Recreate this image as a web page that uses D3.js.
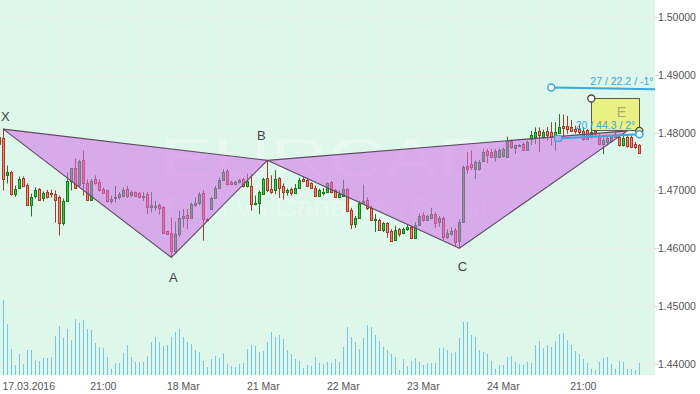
<!DOCTYPE html>
<html><head><meta charset="utf-8">
<script src="https://cdn.jsdelivr.net/npm/d3@7"></script>
<style>body{margin:0;background:#fff}svg{display:block}</style>
</head><body>
<svg id="chart" width="700" height="394"></svg>
<script>
// ---------- DATA ----------
const open=[1.4793,1.4791,1.4727,1.4731,1.4694,1.4705,1.4722,1.4710,1.4675,1.4691,
1.4703,1.4686,1.4698,1.4695,1.4693,1.4688,1.4643,1.4682,1.4717,1.4739,
1.4710,1.4753,1.4713,1.4684,1.4719,1.4715,1.4703,1.4700,1.4681,1.4688,
1.4688,1.4691,1.4703,1.4692,1.4697,1.4695,1.4688,1.4694,1.4672,1.4672,
1.4675,1.4671,1.4629,1.4626,1.4595,1.4625,1.4652,1.4658,1.4653,1.4675,
1.4678,1.4695,1.4651,1.4668,1.4687,1.4705,1.4718,1.4734,1.4715,1.4711,
1.4714,1.4720,1.4707,1.4708,1.4677,1.4679,1.4694,1.4722,1.4703,1.4700,
1.4722,1.4708,1.4698,1.4703,1.4695,1.4705,1.4720,1.4718,1.4712,1.4705,
1.4691,1.4696,1.4698,1.4714,1.4701,1.4688,1.4691,1.4703,1.4666,1.4642,
1.4652,1.4679,1.4684,1.4670,1.4648,1.4649,1.4632,1.4644,1.4630,1.4614,
1.4633,1.4626,1.4633,1.4637,1.4618,1.4641,1.4658,1.4649,1.4653,1.4660,
1.4645,1.4653,1.4619,1.4625,1.4632,1.4612,1.4645,1.4743,1.4746,1.4737,
1.4737,1.4750,1.4768,1.4766,1.4758,1.4758,1.4760,1.4758,1.4786,1.4774,
1.4776,1.4781,1.4770,1.4789,1.4792,1.4803,1.4793,1.4803,1.4801,1.4795,
1.4799,1.4812,1.4812,1.4810,1.4807,1.4806,1.4803,1.4805,1.4792,1.4803,
1.4793,1.4780,1.4783,1.4786,1.4798,1.4793,1.4778,1.4793,1.4792,1.4781,
1.4778];
const high=[1.4797,1.4807,1.4743,1.4734,1.4708,1.4724,1.4724,1.4712,1.4694,1.4705,
1.4704,1.4698,1.4701,1.4701,1.4700,1.4691,1.4686,1.4731,1.4739,1.4755,
1.4753,1.4769,1.4719,1.4720,1.4726,1.4719,1.4705,1.4701,1.4691,1.4708,
1.4697,1.4705,1.4708,1.4700,1.4698,1.4697,1.4697,1.4697,1.4697,1.4682,
1.4677,1.4672,1.4630,1.4653,1.4646,1.4665,1.4668,1.4668,1.4679,1.4688,
1.4697,1.4700,1.4652,1.4689,1.4708,1.4722,1.4737,1.4737,1.4717,1.4717,
1.4720,1.4722,1.4729,1.4729,1.4691,1.4700,1.4722,1.4752,1.4726,1.4735,
1.4723,1.4712,1.4703,1.4705,1.4711,1.4722,1.4724,1.4722,1.4714,1.4708,
1.4703,1.4704,1.4714,1.4716,1.4703,1.4700,1.4718,1.4704,1.4670,1.4656,
1.4682,1.4710,1.4688,1.4674,1.4659,1.4651,1.4645,1.4645,1.4633,1.4639,
1.4635,1.4636,1.4641,1.4639,1.4645,1.4660,1.4662,1.4658,1.4670,1.4662,
1.4656,1.4655,1.4633,1.4636,1.4635,1.4650,1.4743,1.4766,1.4769,1.4752,
1.4753,1.4772,1.4772,1.4772,1.4772,1.4773,1.4774,1.4793,1.4787,1.4779,
1.4780,1.4783,1.4786,1.4803,1.4809,1.4809,1.4805,1.4810,1.4818,1.4818,
1.4832,1.4831,1.4829,1.4822,1.4812,1.4815,1.4809,1.4806,1.4803,1.4806,
1.4798,1.4795,1.4795,1.4796,1.4801,1.4795,1.4797,1.4797,1.4795,1.4784,
1.4780];
const low=[1.4772,1.4700,1.4712,1.4691,1.4689,1.4703,1.4707,1.4674,1.4655,1.4686,
1.4682,1.4681,1.4686,1.4688,1.4644,1.4622,1.4639,1.4681,1.4700,1.4703,
1.4705,1.4691,1.4682,1.4682,1.4710,1.4698,1.4695,1.4679,1.4677,1.4679,
1.4684,1.4688,1.4687,1.4688,1.4689,1.4687,1.4682,1.4659,1.4662,1.4665,
1.4658,1.4625,1.4624,1.4584,1.4590,1.4619,1.4636,1.4633,1.4652,1.4671,
1.4674,1.4613,1.4647,1.4667,1.4685,1.4704,1.4717,1.4710,1.4710,1.4710,
1.4712,1.4705,1.4705,1.4665,1.4674,1.4659,1.4693,1.4697,1.4694,1.4694,
1.4687,1.4684,1.4691,1.4691,1.4694,1.4704,1.4714,1.4707,1.4703,1.4689,
1.4689,1.4691,1.4697,1.4695,1.4687,1.4687,1.4689,1.4663,1.4633,1.4635,
1.4651,1.4677,1.4666,1.4648,1.4628,1.4630,1.4628,1.4618,1.4612,1.4613,
1.4620,1.4624,1.4630,1.4616,1.4616,1.4639,1.4646,1.4648,1.4651,1.4635,
1.4637,1.4614,1.4616,1.4622,1.4604,1.4600,1.4644,1.4729,1.4735,1.4720,
1.4734,1.4749,1.4747,1.4756,1.4750,1.4756,1.4757,1.4757,1.4772,1.4763,
1.4775,1.4769,1.4769,1.4778,1.4780,1.4766,1.4789,1.4786,1.4778,1.4769,
1.4798,1.4792,1.4798,1.4802,1.4798,1.4798,1.4786,1.4787,1.4790,1.4795,
1.4778,1.4763,1.4778,1.4783,1.4791,1.4776,1.4776,1.4774,1.4773,1.4772,
1.4763];
const close=[1.4781,1.4720,1.4731,1.4693,1.4703,1.4720,1.4708,1.4675,1.4689,1.4701,
1.4684,1.4696,1.4689,1.4694,1.4684,1.4643,1.4682,1.4717,1.4738,1.4705,
1.4750,1.4712,1.4684,1.4717,1.4712,1.4700,1.4696,1.4681,1.4685,1.4689,
1.4694,1.4701,1.4691,1.4697,1.4691,1.4688,1.4691,1.4672,1.4674,1.4673,
1.4669,1.4626,1.4625,1.4595,1.4625,1.4652,1.4655,1.4653,1.4677,1.4679,
1.4694,1.4651,1.4648,1.4687,1.4705,1.4718,1.4731,1.4711,1.4711,1.4715,
1.4718,1.4708,1.4717,1.4677,1.4679,1.4697,1.4720,1.4700,1.4698,1.4720,
1.4705,1.4698,1.4701,1.4695,1.4705,1.4718,1.4716,1.4708,1.4704,1.4691,
1.4700,1.4698,1.4713,1.4697,1.4688,1.4694,1.4703,1.4665,1.4642,1.4652,
1.4679,1.4682,1.4670,1.4649,1.4650,1.4632,1.4643,1.4628,1.4613,1.4632,
1.4625,1.4633,1.4637,1.4618,1.4641,1.4656,1.4648,1.4655,1.4660,1.4643,
1.4653,1.4619,1.4626,1.4629,1.4610,1.4645,1.4740,1.4737,1.4740,1.4749,
1.4749,1.4766,1.4762,1.4758,1.4768,1.4770,1.4772,1.4786,1.4775,1.4778,
1.4779,1.4770,1.4783,1.4795,1.4801,1.4795,1.4801,1.4795,1.4793,1.4801,
1.4809,1.4808,1.4806,1.4803,1.4803,1.4801,1.4789,1.4789,1.4801,1.4797,
1.4780,1.4787,1.4791,1.4792,1.4793,1.4778,1.4791,1.4776,1.4775,1.4775,
1.4764];
const volume=[300,750,510,260,100,210,110,250,250,150,140,
170,170,180,390,490,370,460,350,560,520,
550,460,450,320,280,270,180,60,120,120,
220,300,180,130,130,130,190,330,380,330,
290,300,380,430,460,380,330,310,250,230,
140,80,160,190,170,220,110,90,80,110,120,260,
300,290,230,240,330,430,380,400,360,250,
210,160,140,70,100,90,180,120,110,130,
120,160,130,280,480,
380,330,260,370,500,480,400,340,280,250,
210,180,50,160,90,140,170,130,100,120,
120,120,270,270,250,220,230,370,530,530,
400,380,250,230,210,140,60,100,100,180,
190,130,110,100,130,120,300,340,270,300,
280,340,410,420,350,300,240,210,160,120,
60,50,130,170,180,110,60,140,130,60,
60,50,120];
const priceTicks=[1.44,1.45,1.46,1.47,1.48,1.49,1.50];
const timeTickIndex=[6,26,46,66,86,106,126,146];
const timeTickLabels=["17.03.2016","21:00","18 Mar","21 Mar","22 Mar","23 Mar","24 Mar","21:00"];
const patternNames=["X","A","B","C","D"];
const patternIndex=[1,43,67,115,157];
const patternPrice=[1.4806,1.4584,1.4752,1.4600,1.4803];
const symbolCode="EURCAD";
const symbolName="Euro vs Canadian Dollar";
const trendLabels=["27 / 22.2 / -1°","20 / 44.3 / 2°"];
const trendStartIndex=[138,139.7], trendStartPrice=[1.4878,1.4790];
const trendEndIndex=[164,160], trendEndPrice=[1.4875,1.4797];
const boxLabel="E", boxIndex=[148,160], boxPrice=[1.4859,1.4803];

// ---------- LAYOUT ----------
const W=700,H=394,PW=655,PH=375;
const svg=d3.select("#chart");
const font="'Liberation Sans',Arial,sans-serif";
const x=d3.scaleLinear().domain([0,160]).range([-0.67,639.33]);
const y=d3.scaleLinear().domain([1.44,1.50]).range([363.8,17]);
const yv=d3.scaleLinear().domain([0,750]).range([PH,PH-75]);
const N=open.length;
const idx=d3.range(N);

svg.append("defs").append("clipPath").attr("id","plot").append("rect")
  .attr("x",0).attr("y",0).attr("width",PW).attr("height",PH);
svg.append("rect").attr("width",W).attr("height",H).attr("fill","#fff");
const plot=svg.append("g").attr("clip-path","url(#plot)");
plot.append("rect").attr("width",PW).attr("height",PH).attr("fill","#ddf7ea");

// grid
const gridIdx=d3.range(6,165,10);
plot.selectAll(".vg").data(gridIdx).join("line")
  .attr("x1",d=>Math.round(x(d))+0.5).attr("x2",d=>Math.round(x(d))+0.5)
  .attr("y1",0).attr("y2",PH).attr("stroke","#eaefec").attr("stroke-width",1);
plot.selectAll(".hg").data(priceTicks).join("line")
  .attr("x1",0).attr("x2",PW)
  .attr("y1",d=>Math.round(y(d))+0.5).attr("y2",d=>Math.round(y(d))+0.5)
  .attr("stroke","#eaefec").attr("stroke-width",1);

// watermark
plot.append("text").text(symbolCode).attr("x",PW/2).attr("y",177)
  .attr("text-anchor","middle").attr("font-family",font).attr("font-size",56)
  .attr("textLength",335).attr("lengthAdjust","spacingAndGlyphs")
  .attr("fill","rgba(255,255,255,0.3)");
plot.append("text").text(symbolName).attr("x",PW/2).attr("y",217)
  .attr("text-anchor","middle").attr("font-family",font).attr("font-size",30)
  .attr("fill","rgba(255,255,255,0.3)");

// volume
plot.selectAll(".vol").data(idx).join("line")
  .attr("x1",i=>Math.round(x(i))+0.5).attr("x2",i=>Math.round(x(i))+0.5)
  .attr("y1",PH).attr("y2",i=>yv(volume[i]))
  .attr("stroke","#74c5e6").attr("stroke-width",1);

// candles
const up=i=>close[i]>=open[i];
const cg=plot.selectAll(".cd").data(idx).join("g");
cg.append("line")
  .attr("x1",i=>Math.round(x(i))+0.5).attr("x2",i=>Math.round(x(i))+0.5)
  .attr("y1",i=>y(high[i])).attr("y2",i=>y(low[i]))
  .attr("stroke",i=>up(i)?"#1d7a1d":"#a8392a").attr("stroke-width",1);
cg.append("rect")
  .attr("x",i=>Math.round(x(i))-0.5).attr("width",2)
  .attr("y",i=>Math.round(y(Math.max(open[i],close[i])))+0.5)
  .attr("height",i=>Math.max(1,Math.round(y(Math.min(open[i],close[i])))-Math.round(y(Math.max(open[i],close[i])))))
  .attr("fill",i=>up(i)?"#3cc83c":"#f3896e")
  .attr("stroke",i=>up(i)?"#1d7a1d":"#a8392a").attr("stroke-width",1);

// pattern
const pts=patternIndex.map((d,k)=>[x(d),y(patternPrice[k])]);
const tri=[[pts[0],pts[1],pts[2]],[pts[2],pts[3],pts[4]]];
plot.selectAll(".tri").data(tri).join("path")
  .attr("d",d=>"M"+d.map(p=>p.join(",")).join("L")+"Z")
  .attr("fill","rgba(210,108,232,0.55)")
  .attr("stroke","#5d4a62").attr("stroke-width",1.1).attr("stroke-linejoin","round");
const ldx=[2,2,-6,3,0], ldy=[-8,25,-20,23,-12];
plot.selectAll(".pl").data([0,1,2,3]).join("text")
  .text(k=>patternNames[k])
  .attr("x",k=>pts[k][0]+ldx[k]).attr("y",k=>pts[k][1]+ldy[k])
  .attr("text-anchor","middle").attr("font-family",font).attr("font-size",13)
  .attr("fill","#444");

// annotations
const blue="#3aa8dc";
for(let k=0;k<2;k++){
  const x0=x(trendStartIndex[k]),y0=y(trendStartPrice[k]),x1=x(trendEndIndex[k]),y1=y(trendEndPrice[k]);
  plot.append("line").attr("x1",x0).attr("y1",y0).attr("x2",x1).attr("y2",y1)
    .attr("stroke",blue).attr("stroke-width",2);
}
// box E
const bx0=x(boxIndex[0]),bx1=x(boxIndex[1]),by0=y(boxPrice[0]),by1=y(boxPrice[1]);
plot.append("rect").attr("x",Math.round(bx0)+0.5).attr("y",Math.round(by0)+0.5)
  .attr("width",Math.round(bx1-bx0)).attr("height",Math.round(by1-by0))
  .attr("fill","rgba(232,240,120,0.92)").attr("stroke","#5a5a4a").attr("stroke-width",1);
plot.append("text").text(boxLabel).attr("x",bx0+30).attr("y",by0+18.5)
  .attr("text-anchor","middle").attr("font-family",font).attr("font-size",14)
  .attr("fill","#a9a977");
// trend labels
plot.append("text").text(trendLabels[0]).attr("x",PW-1.5).attr("y",y(trendStartPrice[0])-3)
  .attr("text-anchor","end").attr("font-family",font).attr("font-size",10.5).attr("fill",blue);
plot.append("text").text(trendLabels[1]).attr("x",x(trendEndIndex[1])-4).attr("y",y(trendEndPrice[1])-5.5)
  .attr("text-anchor","end").attr("font-family",font).attr("font-size",10.5).attr("fill",blue);
// handles
plot.append("circle").attr("cx",x(trendStartIndex[0])).attr("cy",y(trendStartPrice[0])).attr("r",3.5)
  .attr("fill","#fff").attr("stroke",blue).attr("stroke-width",1.5);
plot.append("circle").attr("cx",bx0).attr("cy",by0).attr("r",3.5)
  .attr("fill","#fff").attr("stroke","#444").attr("stroke-width",1.3);
plot.append("circle").attr("cx",bx1).attr("cy",by1).attr("r",3.5)
  .attr("fill","#eef08a").attr("stroke","#444").attr("stroke-width",1.3);
plot.append("rect").attr("x",x(trendStartIndex[1])-3.5).attr("y",y(trendStartPrice[1])-3)
  .attr("width",7).attr("height",6).attr("rx",2)
  .attr("fill","#b9a8ee").attr("stroke",blue).attr("stroke-width",1.2);
plot.append("circle").attr("cx",x(trendEndIndex[1])).attr("cy",y(trendEndPrice[1])).attr("r",3.5)
  .attr("fill","#fff").attr("stroke",blue).attr("stroke-width",1.5);

// right axis
svg.selectAll(".rt").data(priceTicks).join("line")
  .attr("x1",PW).attr("x2",PW+4).attr("y1",d=>Math.round(y(d))+0.5).attr("y2",d=>Math.round(y(d))+0.5)
  .attr("stroke","#d8d8d8");
svg.selectAll(".rl").data(priceTicks).join("text")
  .text(d=>d3.format(".5f")(d))
  .attr("x",PW+3).attr("y",d=>y(d)+4)
  .attr("font-family",font).attr("font-size",10.5).attr("fill","#555");
// bottom axis
svg.selectAll(".bl").data(timeTickIndex).join("text")
  .text((d,k)=>timeTickLabels[k])
  .attr("x",function(d){return x(d);})
  .attr("y",390).attr("text-anchor","middle")
  .attr("font-family",font).attr("font-size",10.5).attr("fill","#555")
  .each(function(d){
    const w=this.getComputedTextLength();
    if(x(d)-w/2<2){d3.select(this).attr("text-anchor","start").attr("x",2.5);}
  });
</script>
</body></html>
